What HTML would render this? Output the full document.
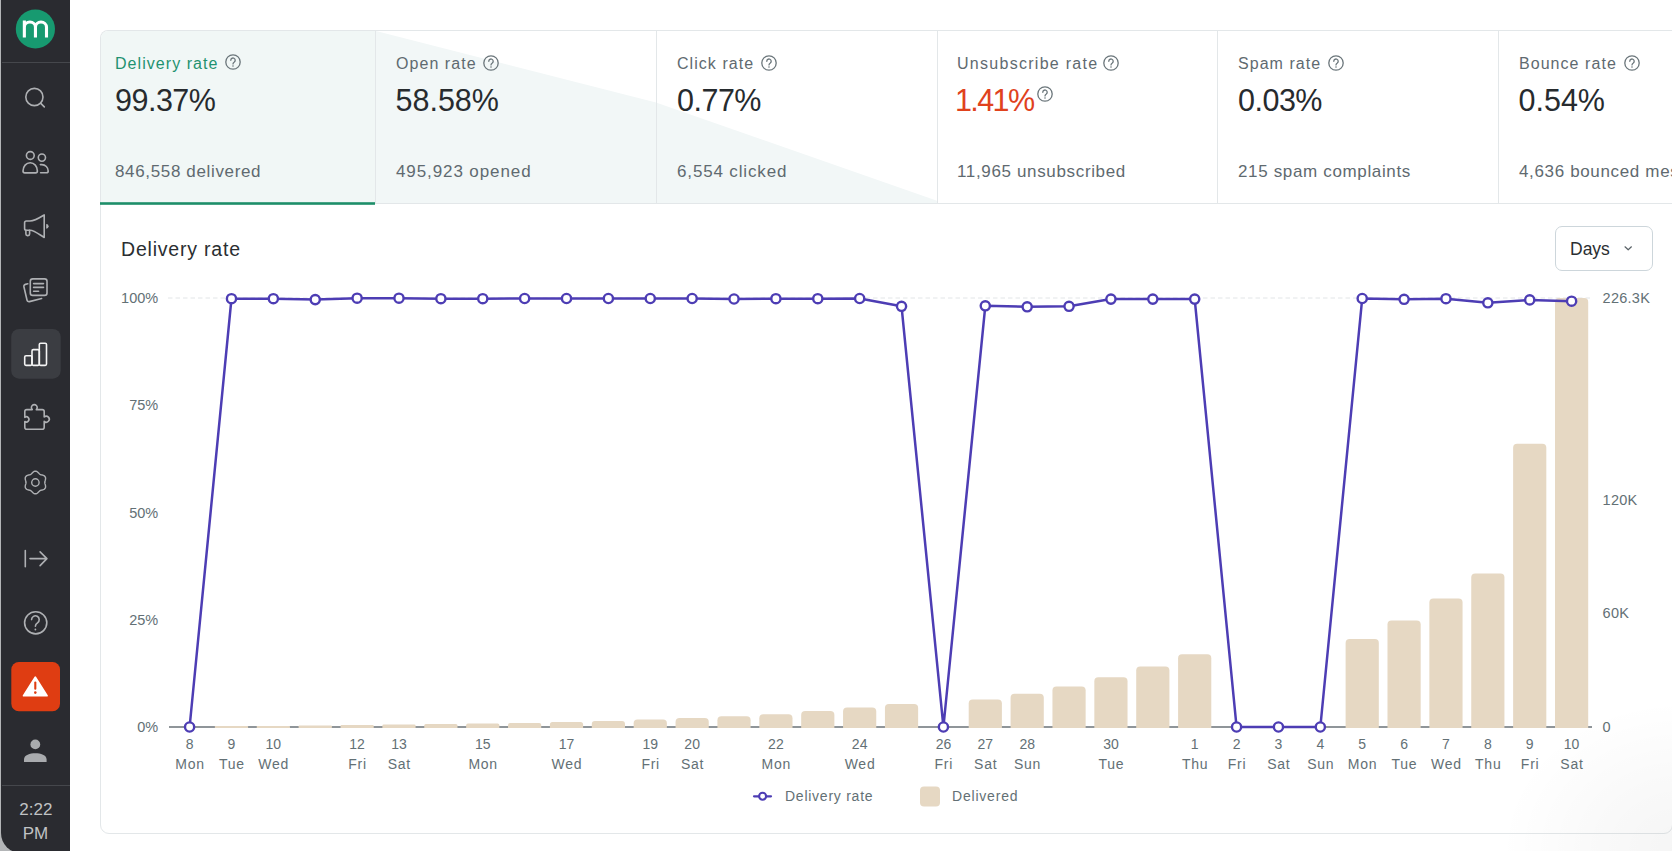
<!DOCTYPE html>
<html><head><meta charset="utf-8">
<style>
html,body{margin:0;padding:0;background:#fff;width:1672px;height:851px;overflow:hidden;font-family:"Liberation Sans",sans-serif;}
.abs{position:absolute;white-space:nowrap;}
#side{position:absolute;left:1.3px;top:0;width:68.7px;height:853px;background:#2a2b30;border-bottom-left-radius:20px;}
#sideedge{position:absolute;left:0;top:0;width:16px;height:851px;background:#b3b5b7;}
#cards{position:absolute;left:100px;top:30px;width:1600px;height:172px;border:1px solid #e3e7e9;border-bottom:none;border-top-left-radius:8px;overflow:hidden;background:#fff;}
.lab{font-size:16px;color:#5f6a70;letter-spacing:1.05px;}
.val{font-size:30.5px;color:#272b2e;letter-spacing:-0.5px;}
.sub{font-size:17px;color:#5f6a70;letter-spacing:0.65px;}
.ax{font-family:"Liberation Sans",sans-serif;font-size:14px;fill:#637075;}
.wd{letter-spacing:0.75px;}
.hi{position:absolute;}
#chart{position:absolute;left:100px;top:203px;width:1571px;height:629px;border:1px solid #e3e7e9;border-bottom-left-radius:9px;border-bottom-right-radius:9px;}
</style></head><body>
<div id="sideedge"></div>
<div id="side"></div>
<svg class="abs" style="left:0;top:0" width="72" height="851" viewBox="0 0 72 851">
  <circle cx="35.4" cy="29" r="19.6" fill="#179a70"/>
  <path d="M24.35,37.5 V20.4 M24.35,27.3 A5.55,5.3 0 0 1 35.45,27.3 V37.5 M35.45,27.3 A5.52,5.3 0 0 1 46.5,27.3 V37.5" fill="none" stroke="#fff" stroke-width="3.1"/>
  <line x1="2" y1="62.5" x2="70" y2="62.5" stroke="#45474c" stroke-width="1"/>
  <g fill="none" stroke="#aeb0b3" stroke-width="1.6" stroke-linecap="round" stroke-linejoin="round">
    <!-- search -->
    <circle cx="34.4" cy="97" r="8.6"/>
    <line x1="40.8" y1="103.4" x2="44.3" y2="106.9"/>
    <!-- people -->
    <circle cx="30.3" cy="155.5" r="3.9"/>
    <circle cx="41.9" cy="157.6" r="3.6"/>
    <path d="M24.8,172.9 H35.6 A1.8,1.8 0 0 0 37.4,171.1 C37.4,166.3 34.2,162.8 30.2,162.8 C26.2,162.8 23,166.3 23,171.1 A1.8,1.8 0 0 0 24.8,172.9 Z"/>
    <path d="M40.4,164.6 H41.8 C45.4,164.6 48.2,167.5 48.2,171 A1.8,1.8 0 0 1 46.4,172.8 H40.6"/>
    <!-- megaphone -->
    <path d="M26.4,221 H30 C34.5,221 39.5,217.8 44.2,214.9 V237.5 C39.5,234.6 34.5,230.2 30,230.2 H26.4 A1.8,1.8 0 0 1 24.6,228.4 V222.8 A1.8,1.8 0 0 1 26.4,221 Z"/>
    <path d="M25.9,230.4 V234 A1.6,1.6 0 0 0 27.5,235.6 H28 A1.6,1.6 0 0 0 29.6,234 V230.4"/>
    <path d="M46.2,223.9 A2.4,2.4 0 0 1 46.2,228.7 Z" fill="#aeb0b3" stroke="none"/>
    <!-- forms -->
    <rect x="30.3" y="278.9" width="16.7" height="16.5" rx="2.4"/>
    <path d="M33.6,283.6 H43.5 M33.6,287.4 H43.5 M33.6,291.2 H38.6"/>
    <path d="M27.8,283.8 L25.4,284.4 A2,2 0 0 0 23.9,286.8 L27,300 A2,2 0 0 0 29.4,301.6 L41.6,298.5"/>
    <!-- puzzle -->
    <path d="M26.8,409.6 H32.3 A2.9,2.9 0 1 1 36.3,409.6 H42.2 A2,2 0 0 1 44.2,411.6 V417 A3,3 0 1 1 44.2,421.4 V427.3 A2,2 0 0 1 42.2,429.3 H26.8 A2,2 0 0 1 24.8,427.3 V421.5 A2.6,2.6 0 1 0 24.8,417.3 V411.6 A2,2 0 0 1 26.8,409.6 Z"/>
    <!-- gear -->
    <path d="M44.80,482.50 L44.83,482.01 L44.93,481.50 L45.07,480.97 L45.24,480.41 L45.40,479.82 L45.52,479.21 L45.58,478.59 L45.56,477.98 L45.43,477.39 L45.19,476.85 L44.84,476.37 L44.40,475.96 L43.88,475.64 L43.31,475.38 L42.72,475.18 L42.13,475.03 L41.56,474.89 L41.03,474.75 L40.54,474.58 L40.10,474.36 L39.69,474.08 L39.30,473.75 L38.91,473.36 L38.51,472.94 L38.08,472.50 L37.61,472.09 L37.11,471.73 L36.56,471.44 L35.99,471.26 L35.40,471.20 L34.81,471.26 L34.24,471.44 L33.69,471.73 L33.19,472.09 L32.72,472.50 L32.29,472.94 L31.89,473.36 L31.50,473.75 L31.11,474.08 L30.70,474.36 L30.26,474.58 L29.77,474.75 L29.24,474.89 L28.67,475.03 L28.08,475.18 L27.49,475.38 L26.92,475.64 L26.40,475.96 L25.96,476.37 L25.61,476.85 L25.37,477.39 L25.24,477.98 L25.22,478.59 L25.28,479.21 L25.40,479.82 L25.56,480.41 L25.73,480.97 L25.87,481.50 L25.97,482.01 L26.00,482.50 L25.97,482.99 L25.87,483.50 L25.73,484.03 L25.56,484.59 L25.40,485.18 L25.28,485.79 L25.22,486.41 L25.24,487.02 L25.37,487.61 L25.61,488.15 L25.96,488.63 L26.40,489.04 L26.92,489.36 L27.49,489.62 L28.08,489.82 L28.67,489.97 L29.24,490.11 L29.77,490.25 L30.26,490.42 L30.70,490.64 L31.11,490.92 L31.50,491.25 L31.89,491.64 L32.29,492.06 L32.72,492.50 L33.19,492.91 L33.69,493.27 L34.24,493.56 L34.81,493.74 L35.40,493.80 L35.99,493.74 L36.56,493.56 L37.11,493.27 L37.61,492.91 L38.08,492.50 L38.51,492.06 L38.91,491.64 L39.30,491.25 L39.69,490.92 L40.10,490.64 L40.54,490.42 L41.03,490.25 L41.56,490.11 L42.13,489.97 L42.72,489.82 L43.31,489.62 L43.88,489.36 L44.40,489.04 L44.84,488.63 L45.19,488.15 L45.43,487.61 L45.56,487.02 L45.58,486.41 L45.52,485.79 L45.40,485.18 L45.24,484.59 L45.07,484.03 L44.93,483.50 L44.83,482.99 Z" stroke-width="1.4"/>
    <circle cx="35.4" cy="482.5" r="3.7" stroke-width="1.4"/>
    <!-- exit -->
    <path d="M25.3,550.5 V566.8 M30,558.6 H46.9 M40.1,551.9 L46.9,558.6 L40.1,565.6"/>
    <!-- help -->
    <circle cx="35.7" cy="622.8" r="11.1"/>
    <path d="M31.6,619.6 A3.8,3.8 0 1 1 37.5,622.8 C36,623.8 35.4,624.6 35.4,626.3"/>
  </g>
  <circle cx="35.4" cy="629.5" r="0.9" fill="#aeb0b3"/>
  <!-- analytics active -->
  <rect x="11.2" y="328.9" width="49.5" height="49.8" rx="8" fill="#3b3d42"/>
  <g fill="none" stroke="#f4f4f4" stroke-width="1.6" stroke-linejoin="round">
    <rect x="24.7" y="355.7" width="7.3" height="9.7" rx="1.3"/>
    <rect x="32" y="349.6" width="7.3" height="15.8" rx="1.3"/>
    <rect x="39.3" y="343.2" width="7.2" height="22.2" rx="1.3"/>
  </g>
  <!-- alert -->
  <rect x="11.3" y="662" width="48.7" height="49.3" rx="7.5" fill="#df3d12"/>
  <path d="M35.3,677.2 L47,695.7 H23.6 Z" fill="#fff" stroke="#fff" stroke-width="1.8" stroke-linejoin="round"/>
  <rect x="34.25" y="681.5" width="2.1" height="8.3" rx="1.05" fill="#df3d12"/>
  <circle cx="35.3" cy="692.6" r="1.3" fill="#df3d12"/>
  <!-- person -->
  <circle cx="35.3" cy="744.4" r="4.9" fill="#a9abae"/>
  <path d="M24,762 V759.5 C24,755 30,753.3 35.3,753.3 C40.6,753.3 46.6,755 46.6,759.5 V762 Z" fill="#a9abae"/>
  <line x1="2" y1="785.5" x2="70" y2="785.5" stroke="#45474c" stroke-width="1"/>
  <text x="35.8" y="814.8" text-anchor="middle" font-family="Liberation Sans" font-size="17" fill="#c0c2c4">2:22</text>
  <text x="35.5" y="838.8" text-anchor="middle" font-family="Liberation Sans" font-size="17" fill="#c0c2c4">PM</text>
</svg>

<div id="cards">
  <div class="abs" style="left:0;top:0;width:275px;height:172px;background:#f1f7f6;"></div>
</div>
<svg class="abs" style="left:0;top:0" width="1672" height="210" viewBox="0 0 1672 210">
  <polygon points="376,31 656,102.5 937,200.7 937,203 376,203" fill="#f2f7f7"/>
  <g stroke="#e3e7e9" stroke-width="1">
    <line x1="375.5" y1="31" x2="375.5" y2="203"/>
    <line x1="656.5" y1="31" x2="656.5" y2="203"/>
    <line x1="937.5" y1="31" x2="937.5" y2="203"/>
    <line x1="1217.5" y1="31" x2="1217.5" y2="203"/>
    <line x1="1498.5" y1="31" x2="1498.5" y2="203"/>
  </g>
</svg>

<div class="abs lab" style="left:115px;top:54.5px;color:#1f9270">Delivery rate</div>
<div class="abs lab" style="left:396px;top:54.5px;">Open rate</div>
<div class="abs lab" style="left:677px;top:54.5px;">Click rate</div>
<div class="abs lab" style="left:957px;top:54.5px;letter-spacing:1.28px">Unsubscribe rate</div>
<div class="abs lab" style="left:1238px;top:54.5px;">Spam rate</div>
<div class="abs lab" style="left:1519px;top:54.5px;">Bounce rate</div>

<div class="abs val" style="left:115px;top:83px;">99.37%</div>
<div class="abs val" style="left:395.5px;top:83px;letter-spacing:0px">58.58%</div>
<div class="abs val" style="left:677px;top:83px;">0.77%</div>
<div class="abs val" style="left:955px;top:83px;color:#e0421d;letter-spacing:-1.6px">1.41%</div>
<div class="abs val" style="left:1238px;top:83px;">0.03%</div>
<div class="abs val" style="left:1518.5px;top:83px;letter-spacing:0px">0.54%</div>

<div class="abs sub" style="left:115px;top:162px;">846,558 delivered</div>
<div class="abs sub" style="left:396px;top:162px;letter-spacing:0.9px">495,923 opened</div>
<div class="abs sub" style="left:677px;top:162px;letter-spacing:0.85px">6,554 clicked</div>
<div class="abs sub" style="left:957px;top:162px;">11,965 unsubscribed</div>
<div class="abs sub" style="left:1238px;top:162px;">215 spam complaints</div>
<div class="abs sub" style="left:1519px;top:162px;">4,636 bounced messages</div>

<svg class="hi" style="left:223.6px;top:53.3px" width="18" height="18" viewBox="0 0 18 18"><g fill="none" stroke="#6b767b" stroke-width="1.3" stroke-linecap="round"><circle cx="9" cy="9" r="7.2"/><path d="M6.8,7.3 A2.2,2.2 0 1 1 10.3,9 C9.4,9.6 9,10 9,10.9"/></g><circle cx="9" cy="13" r="0.8" fill="#6b767b"/></svg>
<svg class="hi" style="left:482.4px;top:53.5px" width="18" height="18" viewBox="0 0 18 18"><g fill="none" stroke="#6b767b" stroke-width="1.3" stroke-linecap="round"><circle cx="9" cy="9" r="7.2"/><path d="M6.8,7.3 A2.2,2.2 0 1 1 10.3,9 C9.4,9.6 9,10 9,10.9"/></g><circle cx="9" cy="13" r="0.8" fill="#6b767b"/></svg>
<svg class="hi" style="left:759.9px;top:53.5px" width="18" height="18" viewBox="0 0 18 18"><g fill="none" stroke="#6b767b" stroke-width="1.3" stroke-linecap="round"><circle cx="9" cy="9" r="7.2"/><path d="M6.8,7.3 A2.2,2.2 0 1 1 10.3,9 C9.4,9.6 9,10 9,10.9"/></g><circle cx="9" cy="13" r="0.8" fill="#6b767b"/></svg>
<svg class="hi" style="left:1102.0px;top:53.5px" width="18" height="18" viewBox="0 0 18 18"><g fill="none" stroke="#6b767b" stroke-width="1.3" stroke-linecap="round"><circle cx="9" cy="9" r="7.2"/><path d="M6.8,7.3 A2.2,2.2 0 1 1 10.3,9 C9.4,9.6 9,10 9,10.9"/></g><circle cx="9" cy="13" r="0.8" fill="#6b767b"/></svg>
<svg class="hi" style="left:1327.0px;top:53.5px" width="18" height="18" viewBox="0 0 18 18"><g fill="none" stroke="#6b767b" stroke-width="1.3" stroke-linecap="round"><circle cx="9" cy="9" r="7.2"/><path d="M6.8,7.3 A2.2,2.2 0 1 1 10.3,9 C9.4,9.6 9,10 9,10.9"/></g><circle cx="9" cy="13" r="0.8" fill="#6b767b"/></svg>
<svg class="hi" style="left:1623.0px;top:53.5px" width="18" height="18" viewBox="0 0 18 18"><g fill="none" stroke="#6b767b" stroke-width="1.3" stroke-linecap="round"><circle cx="9" cy="9" r="7.2"/><path d="M6.8,7.3 A2.2,2.2 0 1 1 10.3,9 C9.4,9.6 9,10 9,10.9"/></g><circle cx="9" cy="13" r="0.8" fill="#6b767b"/></svg>
<svg class="hi" style="left:1035.5px;top:85.1px" width="18" height="18" viewBox="0 0 18 18"><g fill="none" stroke="#6b767b" stroke-width="1.3" stroke-linecap="round"><circle cx="9" cy="9" r="7.2"/><path d="M6.8,7.3 A2.2,2.2 0 1 1 10.3,9 C9.4,9.6 9,10 9,10.9"/></g><circle cx="9" cy="13" r="0.8" fill="#6b767b"/></svg>
<div id="chart"></div>
<svg class="abs" style="left:0;top:0" width="400" height="210" viewBox="0 0 400 210"><rect x="100" y="202.2" width="275" height="2.6" fill="#1d8e69"/></svg>
<div class="abs" style="left:121px;top:237.5px;font-size:19.5px;letter-spacing:0.8px;color:#2a2e31;">Delivery rate</div>
<div class="abs" style="left:1555px;top:226px;width:98px;height:44.5px;border:1px solid #cdd6db;border-radius:7px;box-sizing:border-box;"></div>
<div class="abs" style="left:1570px;top:239px;font-size:17.5px;color:#2a2e31;">Days</div>
<svg class="abs" style="left:1620px;top:240px" width="16" height="16" viewBox="0 0 16 16"><path d="M5,6.8 L8.2,9.8 L11.4,6.8" fill="none" stroke="#5a6267" stroke-width="1.2" stroke-linecap="round" stroke-linejoin="round"/></svg>

<svg class="abs" style="left:0;top:0" width="1672" height="851" viewBox="0 0 1672 851">
<line x1="168" y1="298.0" x2="1592" y2="298.0" stroke="#e2e5e7" stroke-width="1" stroke-dasharray="4.5 3"/>
<line x1="169" y1="727.0" x2="1592" y2="727.0" stroke="#6a7277" stroke-width="1.6"/>
<path d="M214.88,728.00 V726.50 Q214.88,726.00 215.38,726.00 H247.58 Q248.08,726.00 248.08,726.50 V728.00 Z" fill="#e6d8c3"/>
<path d="M256.76,728.00 V726.50 Q256.76,726.00 257.26,726.00 H289.46 Q289.96,726.00 289.96,726.50 V728.00 Z" fill="#e6d8c3"/>
<path d="M298.64,728.00 V726.25 Q298.64,725.50 299.39,725.50 H331.09 Q331.84,725.50 331.84,726.25 V728.00 Z" fill="#e6d8c3"/>
<path d="M340.52,728.00 V726.00 Q340.52,725.00 341.52,725.00 H372.72 Q373.72,725.00 373.72,726.00 V728.00 Z" fill="#e6d8c3"/>
<path d="M382.39,728.00 V725.75 Q382.39,724.50 383.64,724.50 H414.34 Q415.59,724.50 415.59,725.75 V728.00 Z" fill="#e6d8c3"/>
<path d="M424.27,728.00 V725.50 Q424.27,724.00 425.77,724.00 H455.97 Q457.47,724.00 457.47,725.50 V728.00 Z" fill="#e6d8c3"/>
<path d="M466.15,728.00 V725.25 Q466.15,723.50 467.90,723.50 H497.60 Q499.35,723.50 499.35,725.25 V728.00 Z" fill="#e6d8c3"/>
<path d="M508.03,728.00 V725.00 Q508.03,723.00 510.03,723.00 H539.23 Q541.23,723.00 541.23,725.00 V728.00 Z" fill="#e6d8c3"/>
<path d="M549.91,728.00 V724.50 Q549.91,722.00 552.41,722.00 H580.61 Q583.11,722.00 583.11,724.50 V728.00 Z" fill="#e6d8c3"/>
<path d="M591.79,728.00 V724.00 Q591.79,721.00 594.79,721.00 H621.99 Q624.99,721.00 624.99,724.00 V728.00 Z" fill="#e6d8c3"/>
<path d="M633.67,728.00 V723.25 Q633.67,719.50 637.42,719.50 H663.12 Q666.87,719.50 666.87,723.25 V728.00 Z" fill="#e6d8c3"/>
<path d="M675.55,728.00 V722.00 Q675.55,718.00 679.55,718.00 H704.75 Q708.75,718.00 708.75,722.00 V728.00 Z" fill="#e6d8c3"/>
<path d="M717.42,728.00 V720.30 Q717.42,716.30 721.42,716.30 H746.62 Q750.62,716.30 750.62,720.30 V728.00 Z" fill="#e6d8c3"/>
<path d="M759.30,728.00 V718.20 Q759.30,714.20 763.30,714.20 H788.50 Q792.50,714.20 792.50,718.20 V728.00 Z" fill="#e6d8c3"/>
<path d="M801.18,728.00 V715.00 Q801.18,711.00 805.18,711.00 H830.38 Q834.38,711.00 834.38,715.00 V728.00 Z" fill="#e6d8c3"/>
<path d="M843.06,728.00 V711.60 Q843.06,707.60 847.06,707.60 H872.26 Q876.26,707.60 876.26,711.60 V728.00 Z" fill="#e6d8c3"/>
<path d="M884.94,728.00 V708.00 Q884.94,704.00 888.94,704.00 H914.14 Q918.14,704.00 918.14,708.00 V728.00 Z" fill="#e6d8c3"/>
<path d="M968.70,728.00 V703.50 Q968.70,699.50 972.70,699.50 H997.90 Q1001.90,699.50 1001.90,703.50 V728.00 Z" fill="#e6d8c3"/>
<path d="M1010.58,728.00 V697.70 Q1010.58,693.70 1014.58,693.70 H1039.78 Q1043.78,693.70 1043.78,697.70 V728.00 Z" fill="#e6d8c3"/>
<path d="M1052.45,728.00 V690.60 Q1052.45,686.60 1056.45,686.60 H1081.65 Q1085.65,686.60 1085.65,690.60 V728.00 Z" fill="#e6d8c3"/>
<path d="M1094.33,728.00 V681.20 Q1094.33,677.20 1098.33,677.20 H1123.53 Q1127.53,677.20 1127.53,681.20 V728.00 Z" fill="#e6d8c3"/>
<path d="M1136.21,728.00 V670.50 Q1136.21,666.50 1140.21,666.50 H1165.41 Q1169.41,666.50 1169.41,670.50 V728.00 Z" fill="#e6d8c3"/>
<path d="M1178.09,728.00 V658.30 Q1178.09,654.30 1182.09,654.30 H1207.29 Q1211.29,654.30 1211.29,658.30 V728.00 Z" fill="#e6d8c3"/>
<path d="M1345.61,728.00 V643.00 Q1345.61,639.00 1349.61,639.00 H1374.81 Q1378.81,639.00 1378.81,643.00 V728.00 Z" fill="#e6d8c3"/>
<path d="M1387.48,728.00 V624.40 Q1387.48,620.40 1391.48,620.40 H1416.68 Q1420.68,620.40 1420.68,624.40 V728.00 Z" fill="#e6d8c3"/>
<path d="M1429.36,728.00 V602.60 Q1429.36,598.60 1433.36,598.60 H1458.56 Q1462.56,598.60 1462.56,602.60 V728.00 Z" fill="#e6d8c3"/>
<path d="M1471.24,728.00 V577.40 Q1471.24,573.40 1475.24,573.40 H1500.44 Q1504.44,573.40 1504.44,577.40 V728.00 Z" fill="#e6d8c3"/>
<path d="M1513.12,728.00 V447.70 Q1513.12,443.70 1517.12,443.70 H1542.32 Q1546.32,443.70 1546.32,447.70 V728.00 Z" fill="#e6d8c3"/>
<path d="M1555.00,728.00 V302.00 Q1555.00,298.00 1559.00,298.00 H1584.20 Q1588.20,298.00 1588.20,302.00 V728.00 Z" fill="#e6d8c3"/>
<polyline points="189.60,727.00 231.48,298.70 273.36,298.70 315.24,299.60 357.12,298.20 398.99,298.20 440.87,298.70 482.75,298.70 524.63,298.50 566.51,298.50 608.39,298.50 650.27,298.50 692.15,298.50 734.02,299.00 775.90,298.70 817.78,298.70 859.66,298.50 901.54,306.30 943.42,727.00 985.30,305.80 1027.18,306.80 1069.05,306.30 1110.93,299.10 1152.81,299.10 1194.69,299.10 1236.57,727.00 1278.45,727.00 1320.33,727.00 1362.21,298.50 1404.08,299.30 1445.96,298.70 1487.84,302.80 1529.72,299.90 1571.60,301.20" fill="none" stroke="#4d3db4" stroke-width="2.5" stroke-linejoin="round"/>
<circle cx="189.60" cy="727.00" r="4.6" fill="#fff" stroke="#4d3db4" stroke-width="2.4"/>
<circle cx="231.48" cy="298.70" r="4.6" fill="#fff" stroke="#4d3db4" stroke-width="2.4"/>
<circle cx="273.36" cy="298.70" r="4.6" fill="#fff" stroke="#4d3db4" stroke-width="2.4"/>
<circle cx="315.24" cy="299.60" r="4.6" fill="#fff" stroke="#4d3db4" stroke-width="2.4"/>
<circle cx="357.12" cy="298.20" r="4.6" fill="#fff" stroke="#4d3db4" stroke-width="2.4"/>
<circle cx="398.99" cy="298.20" r="4.6" fill="#fff" stroke="#4d3db4" stroke-width="2.4"/>
<circle cx="440.87" cy="298.70" r="4.6" fill="#fff" stroke="#4d3db4" stroke-width="2.4"/>
<circle cx="482.75" cy="298.70" r="4.6" fill="#fff" stroke="#4d3db4" stroke-width="2.4"/>
<circle cx="524.63" cy="298.50" r="4.6" fill="#fff" stroke="#4d3db4" stroke-width="2.4"/>
<circle cx="566.51" cy="298.50" r="4.6" fill="#fff" stroke="#4d3db4" stroke-width="2.4"/>
<circle cx="608.39" cy="298.50" r="4.6" fill="#fff" stroke="#4d3db4" stroke-width="2.4"/>
<circle cx="650.27" cy="298.50" r="4.6" fill="#fff" stroke="#4d3db4" stroke-width="2.4"/>
<circle cx="692.15" cy="298.50" r="4.6" fill="#fff" stroke="#4d3db4" stroke-width="2.4"/>
<circle cx="734.02" cy="299.00" r="4.6" fill="#fff" stroke="#4d3db4" stroke-width="2.4"/>
<circle cx="775.90" cy="298.70" r="4.6" fill="#fff" stroke="#4d3db4" stroke-width="2.4"/>
<circle cx="817.78" cy="298.70" r="4.6" fill="#fff" stroke="#4d3db4" stroke-width="2.4"/>
<circle cx="859.66" cy="298.50" r="4.6" fill="#fff" stroke="#4d3db4" stroke-width="2.4"/>
<circle cx="901.54" cy="306.30" r="4.6" fill="#fff" stroke="#4d3db4" stroke-width="2.4"/>
<circle cx="943.42" cy="727.00" r="4.6" fill="#fff" stroke="#4d3db4" stroke-width="2.4"/>
<circle cx="985.30" cy="305.80" r="4.6" fill="#fff" stroke="#4d3db4" stroke-width="2.4"/>
<circle cx="1027.18" cy="306.80" r="4.6" fill="#fff" stroke="#4d3db4" stroke-width="2.4"/>
<circle cx="1069.05" cy="306.30" r="4.6" fill="#fff" stroke="#4d3db4" stroke-width="2.4"/>
<circle cx="1110.93" cy="299.10" r="4.6" fill="#fff" stroke="#4d3db4" stroke-width="2.4"/>
<circle cx="1152.81" cy="299.10" r="4.6" fill="#fff" stroke="#4d3db4" stroke-width="2.4"/>
<circle cx="1194.69" cy="299.10" r="4.6" fill="#fff" stroke="#4d3db4" stroke-width="2.4"/>
<circle cx="1236.57" cy="727.00" r="4.6" fill="#fff" stroke="#4d3db4" stroke-width="2.4"/>
<circle cx="1278.45" cy="727.00" r="4.6" fill="#fff" stroke="#4d3db4" stroke-width="2.4"/>
<circle cx="1320.33" cy="727.00" r="4.6" fill="#fff" stroke="#4d3db4" stroke-width="2.4"/>
<circle cx="1362.21" cy="298.50" r="4.6" fill="#fff" stroke="#4d3db4" stroke-width="2.4"/>
<circle cx="1404.08" cy="299.30" r="4.6" fill="#fff" stroke="#4d3db4" stroke-width="2.4"/>
<circle cx="1445.96" cy="298.70" r="4.6" fill="#fff" stroke="#4d3db4" stroke-width="2.4"/>
<circle cx="1487.84" cy="302.80" r="4.6" fill="#fff" stroke="#4d3db4" stroke-width="2.4"/>
<circle cx="1529.72" cy="299.90" r="4.6" fill="#fff" stroke="#4d3db4" stroke-width="2.4"/>
<circle cx="1571.60" cy="301.20" r="4.6" fill="#fff" stroke="#4d3db4" stroke-width="2.4"/>
<text x="189.60" y="749.2" text-anchor="middle" class="ax">8</text>
<text x="190.00" y="769.3" text-anchor="middle" class="ax wd">Mon</text>
<text x="231.48" y="749.2" text-anchor="middle" class="ax">9</text>
<text x="231.88" y="769.3" text-anchor="middle" class="ax wd">Tue</text>
<text x="273.36" y="749.2" text-anchor="middle" class="ax">10</text>
<text x="273.76" y="769.3" text-anchor="middle" class="ax wd">Wed</text>
<text x="357.12" y="749.2" text-anchor="middle" class="ax">12</text>
<text x="357.52" y="769.3" text-anchor="middle" class="ax wd">Fri</text>
<text x="398.99" y="749.2" text-anchor="middle" class="ax">13</text>
<text x="399.39" y="769.3" text-anchor="middle" class="ax wd">Sat</text>
<text x="482.75" y="749.2" text-anchor="middle" class="ax">15</text>
<text x="483.15" y="769.3" text-anchor="middle" class="ax wd">Mon</text>
<text x="566.51" y="749.2" text-anchor="middle" class="ax">17</text>
<text x="566.91" y="769.3" text-anchor="middle" class="ax wd">Wed</text>
<text x="650.27" y="749.2" text-anchor="middle" class="ax">19</text>
<text x="650.67" y="769.3" text-anchor="middle" class="ax wd">Fri</text>
<text x="692.15" y="749.2" text-anchor="middle" class="ax">20</text>
<text x="692.55" y="769.3" text-anchor="middle" class="ax wd">Sat</text>
<text x="775.90" y="749.2" text-anchor="middle" class="ax">22</text>
<text x="776.30" y="769.3" text-anchor="middle" class="ax wd">Mon</text>
<text x="859.66" y="749.2" text-anchor="middle" class="ax">24</text>
<text x="860.06" y="769.3" text-anchor="middle" class="ax wd">Wed</text>
<text x="943.42" y="749.2" text-anchor="middle" class="ax">26</text>
<text x="943.82" y="769.3" text-anchor="middle" class="ax wd">Fri</text>
<text x="985.30" y="749.2" text-anchor="middle" class="ax">27</text>
<text x="985.70" y="769.3" text-anchor="middle" class="ax wd">Sat</text>
<text x="1027.18" y="749.2" text-anchor="middle" class="ax">28</text>
<text x="1027.58" y="769.3" text-anchor="middle" class="ax wd">Sun</text>
<text x="1110.93" y="749.2" text-anchor="middle" class="ax">30</text>
<text x="1111.33" y="769.3" text-anchor="middle" class="ax wd">Tue</text>
<text x="1194.69" y="749.2" text-anchor="middle" class="ax">1</text>
<text x="1195.09" y="769.3" text-anchor="middle" class="ax wd">Thu</text>
<text x="1236.57" y="749.2" text-anchor="middle" class="ax">2</text>
<text x="1236.97" y="769.3" text-anchor="middle" class="ax wd">Fri</text>
<text x="1278.45" y="749.2" text-anchor="middle" class="ax">3</text>
<text x="1278.85" y="769.3" text-anchor="middle" class="ax wd">Sat</text>
<text x="1320.33" y="749.2" text-anchor="middle" class="ax">4</text>
<text x="1320.73" y="769.3" text-anchor="middle" class="ax wd">Sun</text>
<text x="1362.21" y="749.2" text-anchor="middle" class="ax">5</text>
<text x="1362.61" y="769.3" text-anchor="middle" class="ax wd">Mon</text>
<text x="1404.08" y="749.2" text-anchor="middle" class="ax">6</text>
<text x="1404.48" y="769.3" text-anchor="middle" class="ax wd">Tue</text>
<text x="1445.96" y="749.2" text-anchor="middle" class="ax">7</text>
<text x="1446.36" y="769.3" text-anchor="middle" class="ax wd">Wed</text>
<text x="1487.84" y="749.2" text-anchor="middle" class="ax">8</text>
<text x="1488.24" y="769.3" text-anchor="middle" class="ax wd">Thu</text>
<text x="1529.72" y="749.2" text-anchor="middle" class="ax">9</text>
<text x="1530.12" y="769.3" text-anchor="middle" class="ax wd">Fri</text>
<text x="1571.60" y="749.2" text-anchor="middle" class="ax">10</text>
<text x="1572.00" y="769.3" text-anchor="middle" class="ax wd">Sat</text>
<text x="158.2" y="303.00" text-anchor="end" class="ax" style="font-size:14.5px">100%</text>
<text x="158.2" y="410.25" text-anchor="end" class="ax" style="font-size:14.5px">75%</text>
<text x="158.2" y="517.50" text-anchor="end" class="ax" style="font-size:14.5px">50%</text>
<text x="158.2" y="624.75" text-anchor="end" class="ax" style="font-size:14.5px">25%</text>
<text x="158.2" y="732.00" text-anchor="end" class="ax" style="font-size:14.5px">0%</text>
<text x="1602.6" y="303.00" class="ax" style="font-size:14.5px" letter-spacing="0.25">226.3K</text>
<text x="1602.6" y="504.50" class="ax" style="font-size:14.5px" letter-spacing="0.25">120K</text>
<text x="1602.6" y="618.00" class="ax" style="font-size:14.5px" letter-spacing="0.25">60K</text>
<text x="1602.6" y="732.00" class="ax" style="font-size:14.5px" letter-spacing="0.25">0</text>
<line x1="754" y1="796.3" x2="771" y2="796.3" stroke="#4d3db4" stroke-width="2.2" stroke-linecap="round"/>
<circle cx="762.6" cy="796.3" r="3.5" fill="#fff" stroke="#4d3db4" stroke-width="2.1"/>
<text x="785" y="801" class="ax" letter-spacing="0.75">Delivery rate</text>
<rect x="920" y="786.5" width="20" height="20" rx="4" fill="#e6d8c3"/>
<text x="952" y="801" class="ax" letter-spacing="0.8">Delivered</text>
</svg>
<div class="abs" style="left:1480px;top:690px;width:260px;height:200px;background:radial-gradient(ellipse 180px 150px at 200px 160px, rgba(0,0,0,0.04) 0%, rgba(0,0,0,0.025) 45%, rgba(0,0,0,0) 100%);pointer-events:none;"></div>
</body></html>
